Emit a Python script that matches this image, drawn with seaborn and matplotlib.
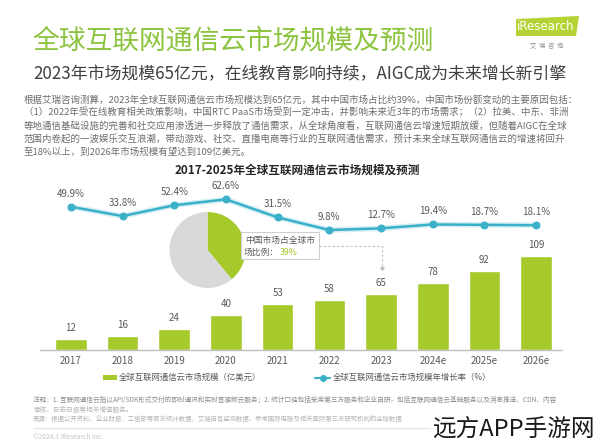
import numpy as np
import pandas as pd
import matplotlib.pyplot as plt
import seaborn as sns
from matplotlib.patches import Rectangle, Polygon
from matplotlib.lines import Line2D

# chart data
years = ['2017', '2018', '2019', '2020', '2021', '2022', '2023', '2024e', '2025e', '2026e']
market_size = [12, 16, 24, 40, 53, 58, 65, 78, 92, 109]
growth_rate = [49.9, 33.8, 52.4, 62.6, 31.5, 9.8, 12.7, 19.4, 18.7, 18.1]
china_share = [39, 61]

title = '全球互联网通信云市场规模及预测'
subtitle = '2023年市场规模65亿元，在线教育影响持续，AIGC成为未来增长新引擎'
paragraph = [
    '根据艾瑞咨询测算，2023年全球互联网通信云市场规模达到65亿元，其中中国市场占比约39%，中国市场份额变动的主要原因包括：',
    '（1）2022年受在线教育相关政策影响，中国RTC PaaS市场受到一定冲击，并影响未来近3年的市场需求；（2）拉美、中东、非洲',
    '等地通信基础设施的完善和社交应用渗透进一步释放了通信需求，从全球角度看，互联网通信云增速短期放缓，但随着AIGC在全球',
    '范围内卷起的一波娱乐交互浪潮，带动游戏、社交、直播电商等行业的互联网通信需求，预计未来全球互联网通信云的增速将回升',
    '至18%以上，到2026年市场规模有望达到109亿美元。',
]
chart_title = '2017-2025年全球互联网通信云市场规模及预测'
legend_labels = ['全球互联网通信云市场规模（亿美元）', '全球互联网通信云市场规模年增长率（%）']
footnotes = [
    '注释：1. 互联网通信云指以API/SDK形式交付的即时通讯和实时音视频云服务；2. 统计口径包括采用第三方服务和企业自研，包括互联网通信云基础服务以及消息推送、CDN、内容',
    '审核、日志日报等相关增值服务。',
    '来源：根据公开资料、企业财报、工信部等官方统计数据、艾瑞自有监测数据，参考国际电联及相关国际第三方研究机构的全球数据',
]

# colours
green_title = '#8cc43f'
bar_color = '#a6c92b'
line_color = '#3bb0c9'
label_color = '#595959'
pie_gray = '#d9d9d9'

sns.set_style('white')
plt.rcParams['font.family'] = ['Noto Sans CJK SC', 'DejaVu Sans']

W, H = 600, 447


def fx(x):
    return x / W


def fy(y):
    return 1 - y / H


fig = plt.figure(figsize=(6, 4.47), dpi=100)
fig.patch.set_facecolor('white')

# header
fig.text(fx(32), fy(41), title, fontsize=19.3, color=green_title, va='center', ha='left')
fig.text(fx(33), fy(74), subtitle, fontsize=12.2, color='#404040', va='center', ha='left')
for i, line in enumerate(paragraph):
    fig.text(fx(24), fy(100 + 13 * i), line, fontsize=6.8, color='#6d6d6d', va='center', ha='left')

# logo
fig.add_artist(Polygon([[fx(516), fy(19)], [fx(579), fy(16)], [fx(576), fy(36)], [fx(516), fy(36)]],
                       closed=True, transform=fig.transFigure, facecolor='#b5d334', edgecolor='none'))
fig.text(fx(546), fy(27), 'iResearch', fontsize=8.5, color='white', ha='center', va='center',
         family=['DejaVu Sans'])
fig.text(fx(547), fy(46), '艾  瑞  咨  询', fontsize=4.5, color='#8a8a8a', ha='center', va='center')

fig.text(fx(297), fy(170), chart_title, fontsize=8.4, fontweight='bold', color='#262626',
         ha='center', va='center')

# bars
ax = fig.add_axes([fx(40), fy(349.5), 522 / W, 159.5 / H])
df = pd.DataFrame({'year': years, 'size': market_size})
sns.barplot(data=df, x='year', y='size', color=bar_color, saturation=1, width=0.61, ax=ax)
for i, v in enumerate(market_size):
    ax.annotate(str(v), xy=(i, v), xytext=(0, 8), textcoords='offset points',
                ha='center', va='center', fontsize=7, color=label_color)
ax.set_ylim(0, 186.5)
ax.set_xlabel('')
ax.set_ylabel('')
ax.set_yticks([])
for s in ['top', 'right', 'left']:
    ax.spines[s].set_visible(False)
ax.spines['bottom'].set_color('#bfbfbf')
ax.spines['bottom'].set_linewidth(1)
ax.tick_params(axis='x', length=0, pad=5, labelsize=7, labelcolor=label_color)
ax.patch.set_alpha(0)

# growth line
ax2 = ax.twinx()
ax2.plot(np.arange(len(growth_rate)), growth_rate, color=line_color, linewidth=4, alpha=0.2)
sns.lineplot(x=np.arange(len(growth_rate)), y=growth_rate, ax=ax2, color=line_color,
             linewidth=1.8, marker='o', markersize=5, markeredgecolor=line_color)
for i, v in enumerate(growth_rate):
    ax2.annotate(f'{v}%', xy=(i, v), xytext=(0, 9.5), textcoords='offset points',
                 ha='center', va='center', fontsize=7, color=label_color)
ax2.set_ylim(-195.9, 78.7)
ax2.set_yticks([])
ax2.set_ylabel('')
for s in ax2.spines.values():
    s.set_visible(False)
ax.set_xlim(-0.596, 9.5)

# pie of China share
pax = fig.add_axes([fx(169.5), fy(288), 76 / W, 76 / H])
pax.pie(china_share, colors=[bar_color, pie_gray], startangle=90, counterclock=False,
        wedgeprops={'linewidth': 0})
pax.set_xlim(-1, 1)
pax.set_ylim(-1, 1)

# callout
fig.add_artist(Rectangle((fx(241), fy(259)), 78 / W, 27 / H, transform=fig.transFigure,
                         facecolor='white', edgecolor='#cfcfcf', linewidth=0.8))
fig.text(fx(280), fy(240), '中国市场占全球市', fontsize=6.3, color='#595959', ha='center', va='center')
fig.text(fx(279), fy(252.5), '场比例：', fontsize=6.3, color='#595959', ha='right', va='center')
fig.text(fx(279.5), fy(252.5), '39%', fontsize=6.3, color=bar_color, ha='left', va='center')
fig.add_artist(Line2D([fx(319), fx(381.5), fx(381.5)], [fy(246), fy(246), fy(268)],
                      transform=fig.transFigure, color='#bfbfbf', linestyle=(0, (2, 2)), linewidth=0.8))
fig.add_artist(Line2D([fx(381.5)], [fy(268)], transform=fig.transFigure, marker='o',
                      markersize=2, color='#bfbfbf'))

# legend
fig.add_artist(Rectangle((fx(103), fy(380)), 14 / W, 5 / H, transform=fig.transFigure,
                         facecolor=bar_color, edgecolor='none'))
fig.text(fx(119), fy(377.5), legend_labels[0], fontsize=6, color=label_color, ha='left', va='center')
fig.add_artist(Line2D([fx(315), fx(330)], [fy(377.5), fy(377.5)], transform=fig.transFigure,
                      color=line_color, linewidth=1.5))
fig.add_artist(Line2D([fx(322.5)], [fy(377.5)], transform=fig.transFigure, marker='o',
                      markersize=4, color=line_color))
fig.text(fx(333), fy(377.5), legend_labels[1], fontsize=6, color=label_color, ha='left', va='center')

# footnotes
fig.text(fx(33), fy(400), footnotes[0], fontsize=4.8, color='#8c8c8c', ha='left', va='center')
fig.text(fx(33), fy(410), footnotes[1], fontsize=4.8, color='#b5b5b5', ha='left', va='center')
fig.text(fx(33), fy(419), footnotes[2], fontsize=4.6, color='#b5b5b5', ha='left', va='center')
fig.add_artist(Line2D([fx(33), fx(567)], [fy(428), fy(428)], transform=fig.transFigure,
                      color='#e3e3e3', linewidth=0.8))
fig.text(fx(33), fy(437), '©2024.3 iResearch Inc.', fontsize=4.8, color='#c5c5c5', ha='left', va='center')

# watermark
fig.text(fx(432), fy(429), '远方APP手游网', fontsize=17, color='#1a1a1a', fontweight='light',
         ha='left', va='center',
         bbox=dict(facecolor='white', edgecolor='none', pad=1))

fig.savefig('out.png', dpi=100, facecolor='white')
